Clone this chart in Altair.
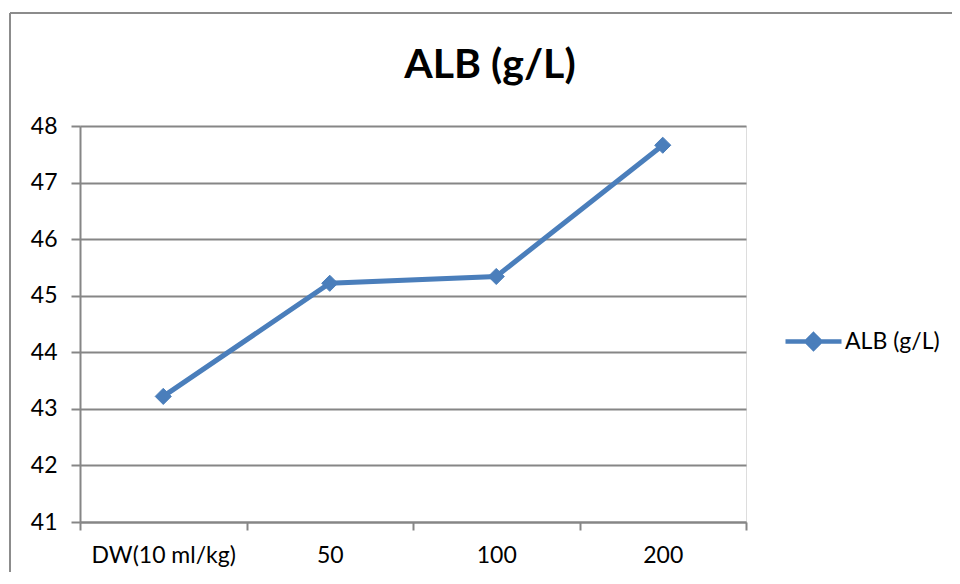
import altair as alt
import pandas as pd

categories = ["DW(10 ml/kg)", "50", "100", "200"]
values = [43.22, 45.22, 45.34, 47.66]
series = "ALB (g/L)"
y_ticks = [41, 42, 43, 44, 45, 46, 47, 48]

df = pd.DataFrame({"cat": categories, "val": values, "series": [series] * len(categories)})
title_df = pd.DataFrame({"t": [series]})

BLUE = "#4A7EBB"
GRAY = "#868686"
FONT = "Lato"
FS = 23

x = alt.X("cat:N", sort=categories, title=None,
          scale=alt.Scale(paddingInner=0, paddingOuter=0),
          axis=alt.Axis(labelAngle=0, tickBand="extent", labelFontSize=FS, labelFont=FONT,
                        labelColor="black", labelPadding=14, tickSize=8, tickColor=GRAY,
                        tickWidth=2, domainColor=GRAY, domainWidth=2, grid=False))
y = alt.Y("val:Q", title=None,
          scale=alt.Scale(domain=[41, 48], nice=False, zero=False),
          axis=alt.Axis(values=y_ticks, labelFontSize=FS, labelFont=FONT,
                        labelColor="black", labelPadding=14, tickSize=9, tickColor=GRAY,
                        tickWidth=2, domainColor=GRAY, domainWidth=2,
                        gridColor=GRAY, gridWidth=2))

color = alt.Color("series:N", scale=alt.Scale(range=[BLUE]), title=None,
                  legend=alt.Legend(orient="none", legendX=722, legendY=204,
                                    symbolType="M-4,0L4,0M0,-1L1,0L0,1L-1,0Z",
                                    symbolSize=196, symbolStrokeWidth=4.5,
                                    symbolFillColor=BLUE, symbolStrokeColor=BLUE,
                                    labelFontSize=FS, labelFont=FONT, labelColor="black",
                                    labelOffset=20))

line = alt.Chart(df).mark_line(strokeWidth=5).encode(x=x, y=y, color=color)
pts = alt.Chart(df).mark_point(shape="diamond", filled=True, size=260, opacity=1,
                               stroke=BLUE, strokeWidth=1).encode(
    x=x, y=y, color=alt.Color("series:N", scale=alt.Scale(range=[BLUE]), legend=None))

title = alt.Chart(title_df).mark_text(font=FONT, fontSize=41, fontWeight="bold", color="black",
                                      align="center", baseline="alphabetic").encode(
    text="t:N", x=alt.value(410), y=alt.value(-48))

border_left = alt.Chart(title_df).mark_rule(color="#8c8c8c", strokeWidth=2).encode(
    x=alt.value(-70), y=alt.value(-113), y2=alt.value(500))
border_top = alt.Chart(title_df).mark_rule(color="#8c8c8c", strokeWidth=2).encode(
    x=alt.value(-70), x2=alt.value(900), y=alt.value(-113))

chart = alt.layer(border_left, border_top, title, line, pts).properties(
    width=666, height=396,
    padding={"left": 72, "top": 118, "right": 206, "bottom": 50},
    autosize=alt.AutoSizeParams(type="none"),
).configure_view(stroke=None).configure(background="white")

chart.save("out.html", embed_options={"renderer": "svg", "actions": False})
